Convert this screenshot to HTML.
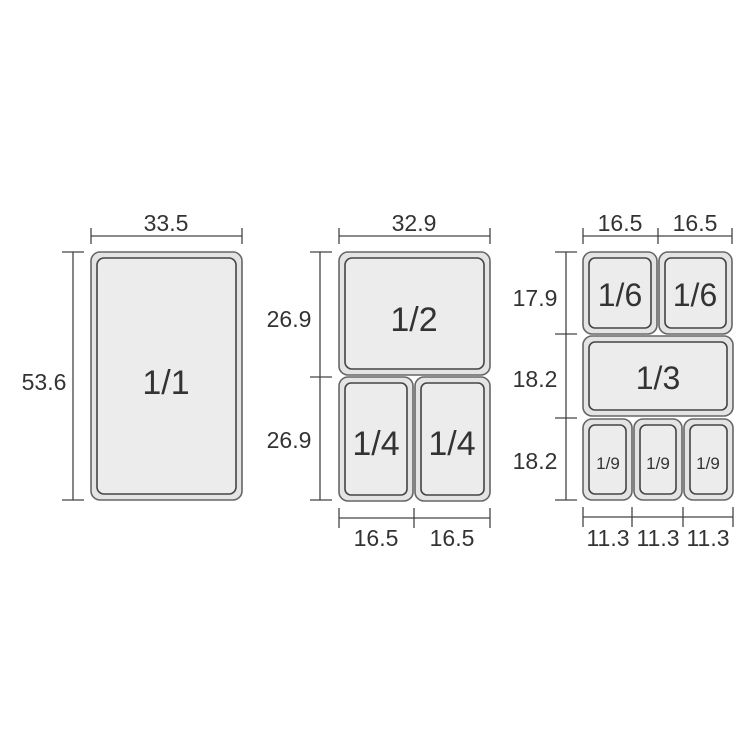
<!DOCTYPE html>
<html><head><style>
html,body{margin:0;padding:0;background:#fff;}
svg{display:block}
text{font-family:"Liberation Sans",sans-serif;fill:#333;}
</style></head><body>
<svg width="748" height="748" viewBox="0 0 748 748" xmlns="http://www.w3.org/2000/svg">
<g fill="none" stroke="#444" stroke-width="1.3">
<line x1="91" y1="236" x2="242" y2="236"/><line x1="91" y1="228" x2="91" y2="244"/><line x1="242" y1="228" x2="242" y2="244"/>
<line x1="73" y1="252" x2="73" y2="500"/><line x1="62" y1="252" x2="84" y2="252"/><line x1="62" y1="500" x2="84" y2="500"/>
<line x1="339" y1="236" x2="490" y2="236"/><line x1="339" y1="228" x2="339" y2="244"/><line x1="490" y1="228" x2="490" y2="244"/>
<line x1="320" y1="252" x2="320" y2="500"/><line x1="310" y1="252" x2="332" y2="252"/><line x1="310" y1="377" x2="332" y2="377"/><line x1="310" y1="500" x2="332" y2="500"/>
<line x1="339" y1="518" x2="490" y2="518"/><line x1="339" y1="508" x2="339" y2="528"/><line x1="414" y1="508" x2="414" y2="528"/><line x1="490" y1="508" x2="490" y2="528"/>
<line x1="583" y1="236" x2="732" y2="236"/><line x1="583" y1="228" x2="583" y2="244"/><line x1="658" y1="228" x2="658" y2="244"/><line x1="732" y1="228" x2="732" y2="244"/>
<line x1="566" y1="252" x2="566" y2="500"/><line x1="555" y1="252" x2="577" y2="252"/><line x1="555" y1="334" x2="577" y2="334"/><line x1="555" y1="418" x2="577" y2="418"/><line x1="555" y1="500" x2="577" y2="500"/>
<line x1="583" y1="517" x2="733" y2="517"/><line x1="583" y1="507" x2="583" y2="527"/><line x1="632" y1="507" x2="632" y2="527"/><line x1="683" y1="507" x2="683" y2="527"/><line x1="733" y1="507" x2="733" y2="527"/>
</g>
<g stroke-width="1.6">
<rect x="91" y="252" width="151" height="248" rx="9" fill="#e4e4e4" stroke="#666"/>
<rect x="97" y="258" width="139" height="236" rx="7" fill="#ececec" stroke="#444"/>
<rect x="339" y="252" width="151" height="123" rx="9" fill="#e4e4e4" stroke="#666"/>
<rect x="345" y="258" width="139" height="111" rx="7" fill="#ececec" stroke="#444"/>
<rect x="339" y="377" width="74" height="124" rx="9" fill="#e4e4e4" stroke="#666"/>
<rect x="345" y="383" width="62" height="112" rx="6" fill="#ececec" stroke="#444"/>
<rect x="415" y="377" width="75" height="124" rx="9" fill="#e4e4e4" stroke="#666"/>
<rect x="421" y="383" width="63" height="112" rx="6" fill="#ececec" stroke="#444"/>
<rect x="583" y="252" width="74" height="82" rx="9" fill="#e4e4e4" stroke="#666"/>
<rect x="589" y="258" width="62" height="70" rx="6" fill="#ececec" stroke="#444"/>
<rect x="659" y="252" width="73" height="82" rx="9" fill="#e4e4e4" stroke="#666"/>
<rect x="665" y="258" width="61" height="70" rx="6" fill="#ececec" stroke="#444"/>
<rect x="583" y="336" width="150" height="80" rx="9" fill="#e4e4e4" stroke="#666"/>
<rect x="589" y="342" width="138" height="68" rx="6" fill="#ececec" stroke="#444"/>
<rect x="583" y="419" width="49" height="81" rx="9" fill="#e4e4e4" stroke="#666"/>
<rect x="589" y="425" width="37" height="69" rx="6" fill="#ececec" stroke="#444"/>
<rect x="634" y="419" width="48" height="81" rx="9" fill="#e4e4e4" stroke="#666"/>
<rect x="640" y="425" width="36" height="69" rx="6" fill="#ececec" stroke="#444"/>
<rect x="684" y="419" width="49" height="81" rx="9" fill="#e4e4e4" stroke="#666"/>
<rect x="690" y="425" width="37" height="69" rx="6" fill="#ececec" stroke="#444"/>
</g>
<g font-size="23" text-anchor="middle" style="fill:#555">
<text x="166" y="231">33.5</text>
<text x="44" y="390">53.6</text>
<text x="414" y="231">32.9</text>
<text x="289" y="327">26.9</text>
<text x="289" y="448">26.9</text>
<text x="376" y="546">16.5</text>
<text x="452" y="546">16.5</text>
<text x="620" y="231">16.5</text>
<text x="695" y="231">16.5</text>
<text x="535" y="306">17.9</text>
<text x="535" y="387">18.2</text>
<text x="535" y="469">18.2</text>
<text x="608" y="546">11.3</text>
<text x="658" y="546">11.3</text>
<text x="708" y="546">11.3</text>
</g>
<g text-anchor="middle">
<text x="166" y="394" font-size="34">1/1</text>
<text x="414" y="331" font-size="34">1/2</text>
<text x="376" y="455" font-size="34">1/4</text>
<text x="452" y="455" font-size="34">1/4</text>
<text x="620" y="306" font-size="32">1/6</text>
<text x="695" y="306" font-size="32">1/6</text>
<text x="658" y="389" font-size="32">1/3</text>
<text x="608" y="469" font-size="17">1/9</text>
<text x="658" y="469" font-size="17">1/9</text>
<text x="708" y="469" font-size="17">1/9</text>
</g>
</svg>
</body></html>
